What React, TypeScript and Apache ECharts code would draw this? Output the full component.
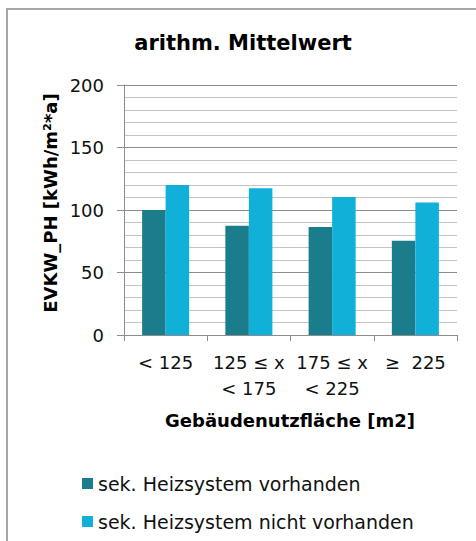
import React, { useEffect, useRef } from "react";
import * as echarts from "echarts";

const categories = ["< 125", "125 ≤ x\n< 175", "175 ≤ x\n< 225", "≥  225"];
const seriesNames = ["sek. Heizsystem vorhanden", "sek. Heizsystem nicht vorhanden"];
const withSecondary = [100, 87.5, 86.5, 75.5];
const withoutSecondary = [120, 117.5, 110.5, 106];
const title = "arithm. Mittelwert";
const yName = "EVKW_PH [kWh/m²*a]";
const xName = "Gebäudenutzfläche [m2]";

const FONT = "DejaVu Sans";

export default function App() {
  const ref = useRef<HTMLDivElement>(null);
  useEffect(() => {
    if (!ref.current) return;
    const chart = echarts.init(ref.current, null, { renderer: "svg" });
    chart.setOption({
      animation: false,
      backgroundColor: "#ffffff",
      textStyle: { fontFamily: FONT },
      grid: { left: 124, top: 85, right: 19, bottom: 206, containLabel: false },
      legend: {
        orient: "vertical",
        left: 77,
        top: 469,
        itemWidth: 11,
        itemHeight: 11,
        itemGap: 19,
        icon: "rect",
        textStyle: { fontFamily: FONT, fontSize: 19, color: "#111111", lineHeight: 19 },
        data: seriesNames,
      },
      xAxis: {
        type: "category",
        data: categories,
        axisLine: { lineStyle: { color: "#8c8c8c", width: 1 } },
        axisTick: { show: true, length: 6, alignWithLabel: false, lineStyle: { color: "#8c8c8c" } },
        axisLabel: {
          interval: 0,
          margin: 14,
          fontFamily: FONT,
          fontSize: 18,
          lineHeight: 26,
          color: "#111111",
        },
      },
      yAxis: {
        type: "value",
        min: 0,
        max: 200,
        interval: 50,
        axisLine: { show: true, lineStyle: { color: "#8c8c8c", width: 1 } },
        axisTick: { show: true, length: 7, lineStyle: { color: "#8c8c8c" } },
        axisLabel: { fontFamily: FONT, fontSize: 18, color: "#111111", margin: 20 },
        splitLine: { show: true, lineStyle: { color: "#8c8c8c", width: 1 } },
        minorTick: { show: false, splitNumber: 5 },
        minorSplitLine: { show: true, lineStyle: { color: "#c4c4c4", width: 1 } },
      },
      series: [
        {
          name: seriesNames[0],
          type: "bar",
          data: withSecondary,
          barGap: "0%",
          barCategoryGap: "43.5%",
          itemStyle: { color: "#1b7d8c" },
        },
        {
          name: seriesNames[1],
          type: "bar",
          data: withoutSecondary,
          barGap: "0%",
          barCategoryGap: "43.5%",
          itemStyle: { color: "#10b0d8" },
        },
      ],
      graphic: [
        {
          type: "rect",
          shape: { x: 7, y: 9, width: 600, height: 700 },
          style: { fill: "none", stroke: "#a6a6a6", lineWidth: 2 },
          silent: true,
        },
        {
          type: "text",
          x: 243,
          y: 43,
          style: {
            text: title,
            fontFamily: FONT,
            fontSize: 21,
            fontWeight: "bold",
            fill: "#000000",
            align: "center",
            verticalAlign: "middle",
          },
        },
        {
          type: "text",
          x: 50,
          y: 203,
          rotation: Math.PI / 2,
          style: {
            text: yName,
            fontFamily: FONT,
            fontSize: 18,
            fontWeight: "bold",
            fill: "#000000",
            align: "center",
            verticalAlign: "middle",
          },
        },
        {
          type: "text",
          x: 290,
          y: 420,
          style: {
            text: xName,
            fontFamily: FONT,
            fontSize: 18,
            fontWeight: "bold",
            fill: "#000000",
            align: "center",
            verticalAlign: "middle",
          },
        },
      ],
    });
    return () => chart.dispose();
  }, []);
  return (
    <div
      ref={ref}
      style={{ position: "fixed", left: 0, top: 0, width: 476, height: 541 }}
    />
  );
}
